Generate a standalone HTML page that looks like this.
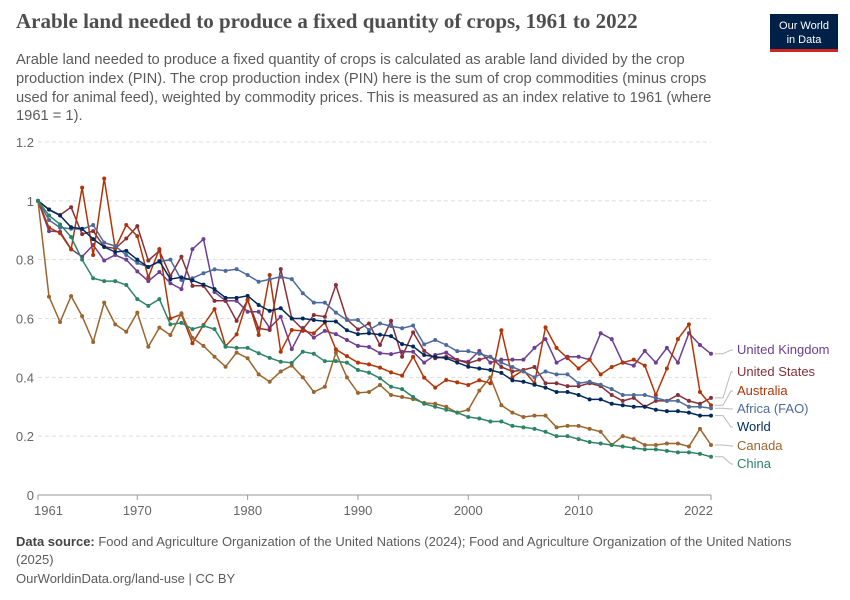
<!DOCTYPE html>
<html><head><meta charset="utf-8"><style>
body{margin:0;background:#fff;font-family:"Liberation Sans",sans-serif;}
#wrap{position:relative;width:850px;height:600px;overflow:hidden;}
</style></head><body>
<div id="wrap">
<svg id="svg" width="850" height="600" xmlns="http://www.w3.org/2000/svg">
<text x="16" y="28" font-family="Liberation Serif, serif" font-size="21" font-weight="bold" fill="#4e4e4e">Arable land needed to produce a fixed quantity of crops, 1961 to 2022</text>
<g font-size="14.7" fill="#5b5b5b">
<text x="16" y="64">Arable land needed to produce a fixed quantity of crops is calculated as arable land divided by the crop</text>
<text x="16" y="83">production index (PIN). The crop production index (PIN) here is the sum of crop commodities (minus crops</text>
<text x="16" y="102">used for animal feed), weighted by commodity prices. This is measured as an index relative to 1961 (where</text>
<text x="16" y="120">1961 = 1).</text>
</g>
<g>
<rect x="770" y="14" width="68" height="38" fill="#002147"/>
<rect x="770" y="49" width="68" height="3" fill="#ce261e"/>
<text x="804" y="29" font-size="11" fill="#fff" text-anchor="middle">Our World</text>
<text x="804" y="43" font-size="11" fill="#fff" text-anchor="middle">in Data</text>
</g>
<g id="grid"></g><g id="series"></g><g id="legend"></g>
<g font-size="13" fill="#5b5b5b">
<text x="16" y="546"><tspan font-weight="bold" fill="#444">Data source:</tspan> Food and Agriculture Organization of the United Nations (2024); Food and Agriculture Organization of the United Nations</text>
<text x="16" y="564">(2025)</text>
<text x="16" y="583">OurWorldinData.org/land-use | CC BY</text>
</g>
</svg>
</div>
<script>
const years=[];for(let y=1961;y<=2022;y++)years.push(y);
const yTicks=[0,0.2,0.4,0.6,0.8,1,1.2];
const yTickLabels=["0","0.2","0.4","0.6","0.8","1","1.2"];
const xTicks=[1961,1970,1980,1990,2000,2010,2022];
const unitedKingdom=[1,0.897,0.895,0.836,0.81,0.85,0.797,0.816,0.80,0.76,0.727,0.758,0.72,0.70,0.836,0.87,0.69,0.66,0.66,0.623,0.623,0.568,0.606,0.496,0.568,0.535,0.558,0.547,0.527,0.507,0.503,0.482,0.479,0.487,0.487,0.45,0.476,0.484,0.459,0.453,0.49,0.45,0.46,0.46,0.46,0.50,0.53,0.45,0.47,0.47,0.46,0.55,0.53,0.45,0.44,0.49,0.45,0.50,0.45,0.55,0.51,0.48];
const unitedStates=[1,0.971,0.952,0.978,0.887,0.897,0.844,0.838,0.872,0.914,0.797,0.83,0.745,0.81,0.711,0.711,0.66,0.66,0.592,0.663,0.566,0.561,0.768,0.60,0.563,0.612,0.606,0.714,0.597,0.563,0.583,0.51,0.592,0.47,0.553,0.49,0.465,0.47,0.459,0.448,0.46,0.47,0.435,0.42,0.425,0.435,0.38,0.38,0.37,0.37,0.38,0.37,0.34,0.32,0.33,0.30,0.32,0.32,0.34,0.32,0.31,0.33];
const australia=[1,0.909,0.89,0.835,1.045,0.816,1.076,0.838,0.918,0.88,0.74,0.836,0.60,0.614,0.516,0.578,0.632,0.506,0.546,0.665,0.544,0.748,0.487,0.561,0.558,0.55,0.586,0.495,0.472,0.45,0.444,0.433,0.417,0.406,0.47,0.399,0.365,0.391,0.383,0.374,0.39,0.38,0.56,0.40,0.425,0.38,0.57,0.50,0.465,0.43,0.46,0.41,0.435,0.45,0.46,0.44,0.34,0.43,0.53,0.58,0.35,0.305];
const africa=[1,0.935,0.909,0.905,0.904,0.918,0.858,0.846,0.816,0.789,0.775,0.793,0.80,0.731,0.737,0.754,0.767,0.762,0.768,0.748,0.725,0.733,0.742,0.734,0.686,0.654,0.654,0.62,0.595,0.595,0.561,0.583,0.574,0.567,0.576,0.512,0.527,0.51,0.489,0.489,0.48,0.47,0.45,0.435,0.42,0.40,0.42,0.41,0.41,0.38,0.385,0.375,0.36,0.34,0.34,0.34,0.33,0.32,0.32,0.30,0.30,0.295];
const world=[1,0.97,0.95,0.91,0.905,0.87,0.843,0.826,0.83,0.80,0.775,0.795,0.734,0.74,0.73,0.715,0.70,0.67,0.67,0.677,0.646,0.626,0.635,0.60,0.60,0.595,0.59,0.59,0.56,0.547,0.55,0.545,0.54,0.513,0.505,0.476,0.47,0.465,0.45,0.436,0.43,0.425,0.415,0.39,0.385,0.375,0.365,0.35,0.35,0.34,0.325,0.325,0.31,0.305,0.30,0.30,0.29,0.285,0.285,0.28,0.27,0.27];
const canada=[1,0.674,0.588,0.676,0.608,0.52,0.654,0.58,0.555,0.62,0.504,0.569,0.544,0.618,0.534,0.507,0.47,0.436,0.484,0.465,0.41,0.385,0.42,0.44,0.40,0.35,0.368,0.484,0.40,0.347,0.35,0.374,0.34,0.333,0.326,0.313,0.31,0.30,0.28,0.29,0.355,0.40,0.305,0.28,0.265,0.27,0.27,0.23,0.235,0.235,0.225,0.215,0.17,0.20,0.19,0.17,0.17,0.175,0.175,0.165,0.225,0.17];
const china=[1,0.95,0.92,0.877,0.80,0.737,0.727,0.727,0.714,0.666,0.643,0.666,0.58,0.585,0.564,0.575,0.564,0.504,0.50,0.50,0.482,0.466,0.453,0.449,0.487,0.48,0.455,0.455,0.45,0.425,0.416,0.397,0.368,0.36,0.333,0.31,0.30,0.29,0.28,0.265,0.26,0.25,0.25,0.235,0.23,0.225,0.215,0.20,0.20,0.19,0.18,0.175,0.17,0.165,0.16,0.155,0.155,0.15,0.145,0.145,0.14,0.13];
const seriesNames=["United Kingdom","United States","Australia","Africa (FAO)","World","Canada","China"];
const seriesData=[unitedKingdom,unitedStates,australia,africa,world,canada,china];
const seriesColors=["#6d3e91","#883039","#b13507","#4c6a9c","#00295b","#9a652e","#2c8465"];
const legendY=[354,376,395,413,431,450,468];
const NS="http://www.w3.org/2000/svg";
const X0=38,X1=711,Y0=495,Y1=142;
const xs=y=>X0+(y-1961)*(X1-X0)/(2022-1961);
const ys=v=>Y0-v*(Y0-Y1)/1.2;
function mk(t,a,p){const e=document.createElementNS(NS,t);for(const k in a)e.setAttribute(k,a[k]);p.appendChild(e);return e;}
const grid=document.getElementById('grid');
yTicks.forEach((v,i)=>{
 const l=mk('line',{x1:X0,x2:X1,y1:ys(v),y2:ys(v),stroke:'#ddd','stroke-dasharray':v===0?'none':'4,3'},grid);
 
 
 const t=mk('text',{x:34,y:ys(v)+5,'text-anchor':'end','font-size':13,fill:'#666'},grid);
 t.textContent=yTickLabels[i];
 
 
});
mk('line',{x1:X0,x2:X1,y1:Y0,y2:Y0,stroke:'#999'},grid);
xTicks.forEach((yr,i)=>{
 mk('line',{x1:xs(yr),x2:xs(yr),y1:Y0,y2:Y0+5,stroke:'#999'},grid);
 const anchor=i===0?'start':(i===xTicks.length-1?'end':'middle');
 const t=mk('text',{x:i===xTicks.length-1?xs(yr)+2:xs(yr)+(i===0?-4:0),y:515,'text-anchor':anchor,'font-size':13,fill:'#666'},grid);
 t.textContent=yr;
 
 
});
const sg=document.getElementById('series'),lg=document.getElementById('legend');
seriesData.forEach((d,si)=>{
 const g=mk('g',{},sg);
 
 
 const pts=d.map((v,i)=>xs(years[i]).toFixed(1)+','+ys(v).toFixed(1)).join(' ');
 mk('polyline',{points:pts,fill:'none',stroke:seriesColors[si],'stroke-width':1.5},g);
 d.forEach((v,i)=>{const c=mk('circle',{cx:xs(years[i]),cy:ys(v),r:2,fill:seriesColors[si]},g);
  
  });
 const ly=legendY[si],ey=ys(d[d.length-1]);
 mk('path',{d:`M${X1+4},${ey} H${X1+12} L${X1+20},${ly-4} H${X1+22}`,fill:'none',stroke:'#bbb'},lg);
 const t=mk('text',{x:737,y:ly,'font-size':13,fill:seriesColors[si]},lg);
 t.textContent=seriesNames[si];
 
 
});
</script>
</body></html>
